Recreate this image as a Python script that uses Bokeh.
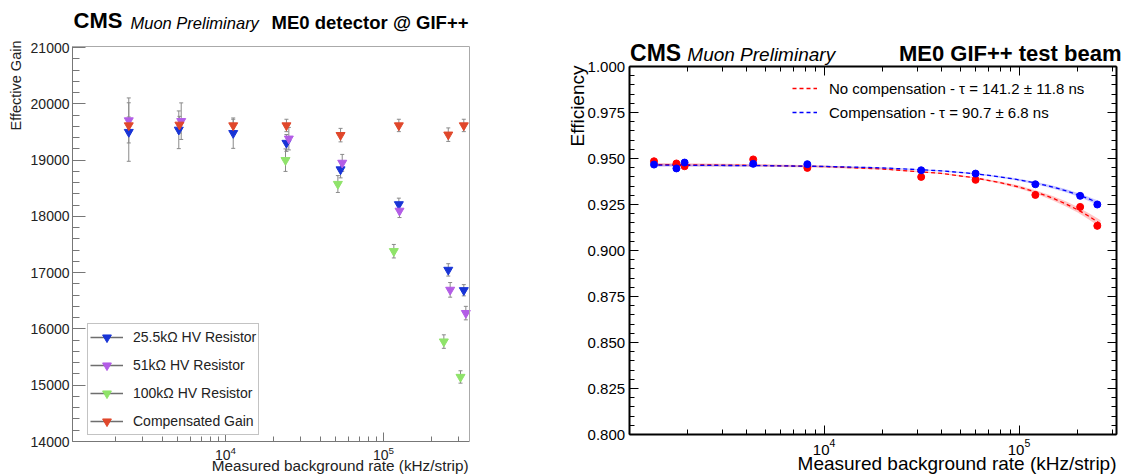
import math
from bokeh.plotting import figure
from bokeh.models import (FixedTicker, Label, Legend, LegendItem, Whisker, TeeHead,
                          ColumnDataSource, Range1d, LinearAxis, LogAxis, CustomJSTickFormatter,
                          PrintfTickFormatter)
from bokeh.layouts import row
from bokeh.embed import file_html
from bokeh.resources import INLINE

FONT = "Liberation Sans"

# ---------------- left panel data (Effective gain vs rate) ----------------
rate_25k = [2443, 5063, 11190, 24300, 53460, 125000, 256800, 322000]
gain_25k = [19500, 19540, 19480, 19306, 18835, 18215, 17050, 16688]
err_25k = [520, 335, 270, 150, 150, 110, 110, 100]

rate_51k = [2443, 5244, 25160, 54770, 126200, 264000, 331700]
gain_51k = [19706, 19693, 19382, 18952, 18100, 16695, 16282]
err_51k = [400, 325, 200, 150, 120, 130, 120]

rate_100k = [23970, 51400, 116200, 240800, 306900]
gain_100k = [19000, 18576, 17382, 15776, 15147]
err_100k = [200, 150, 120, 120, 110]

rate_cg = [2443, 5110, 11190, 24300, 53460, 125000, 256800, 322000]
gain_cg = [19617, 19629, 19617, 19617, 19445, 19617, 19453, 19617]
err_cg = [150, 150, 110, 110, 120, 110, 120, 110]

left_labels = ["25.5k\u03a9 HV Resistor", "51k\u03a9 HV Resistor",
               "100k\u03a9 HV Resistor", "Compensated Gain"]
left_colors = ["#1834d6", "#b35de6", "#8fe36a", "#e0472b"]

gain_lim = (14000, 21020)
rate_lim_left = (1076, 349900)
gain_major = [14000, 15000, 16000, 17000, 18000, 19000, 20000, 21000]
gain_minor = [14000 + 200 * i for i in range(36)]

# ---------------- right panel data (Efficiency vs rate) ----------------
rate_eff = [1342, 1749, 1926, 4331, 8208, 31490, 59870, 121300, 205900, 252100]
eff_nocomp = [0.9485, 0.9473, 0.9458, 0.9495, 0.9449, 0.9400, 0.9384, 0.9302, 0.9237, 0.9134]
err_nocomp = [0.0006, 0.0006, 0.0006, 0.0006, 0.0006, 0.0006, 0.0007, 0.0009, 0.0016, 0.0018]
eff_comp = [0.9467, 0.9446, 0.9478, 0.9471, 0.9469, 0.9436, 0.9418, 0.9360, 0.9297, 0.9250]
err_comp = [0.0006, 0.0006, 0.0006, 0.0006, 0.0006, 0.0006, 0.0007, 0.0008, 0.0012, 0.0015]

fit_rate = [1300, 2000, 5000, 10000, 20000, 40000, 60000, 80000, 100000, 125000,
            150000, 175000, 200000, 225000, 250000, 262000]
fit_nocomp = [0.9467, 0.9466, 0.9462, 0.9456, 0.9443, 0.9419, 0.9394, 0.9369, 0.9345, 0.9314,
              0.9283, 0.9252, 0.9221, 0.9190, 0.9159, 0.9144]
band_nocomp = [0.0009, 0.0008, 0.0007, 0.0006, 0.0004, 0.0003, 0.0004, 0.0006, 0.0008, 0.0010,
               0.0012, 0.0014, 0.0015, 0.0017, 0.0019, 0.0020]
fit_comp = [0.9464, 0.9463, 0.9461, 0.9457, 0.9449, 0.9433, 0.9417, 0.9400, 0.9384, 0.9364,
            0.9344, 0.9324, 0.9303, 0.9283, 0.9263, 0.9253]
band_comp = [0.0007, 0.0006, 0.0005, 0.0004, 0.0003, 0.0003, 0.0004, 0.0005, 0.0006, 0.0007,
             0.0008, 0.0009, 0.0010, 0.0011, 0.0012, 0.0013]

right_labels = ["No compensation - \u03c4 = 141.2 \u00b1 11.8 ns",
                "Compensation - \u03c4 = 90.7 \u00b1 6.8 ns"]
eff_lim = (0.8, 1.0)
rate_lim_right = (1000, 316228)
eff_major = [0.800, 0.825, 0.850, 0.875, 0.900, 0.925, 0.950, 0.975, 1.000]
eff_minor = [round(0.800 + 0.005 * i, 3) for i in range(41)]

rate_major = [1e4, 1e5]
rate_minor = [2e3, 3e3, 4e3, 5e3, 6e3, 7e3, 8e3, 9e3,
              2e4, 3e4, 4e4, 5e4, 6e4, 7e4, 8e4, 9e4, 2e5, 3e5]

# ---------------- layout geometry (page pixels) ----------------
H = 474
W1, W2 = 545, 578
X2 = W1  # left edge of right canvas
BOX1 = dict(x0=72, x1=469, y0=46, y1=441)       # left plotting box (page px)
BOX2 = dict(x0=628.6, x1=1116, y0=66, y1=434)    # right plotting box (page px)


def extend(d0, d1, p0, p1, total, log=False):
    """Extend a data interval mapped to pixels p0..p1 so it covers 0..total."""
    if log:
        d0, d1 = math.log10(d0), math.log10(d1)
    s = (d1 - d0) / (p1 - p0)
    a, b = d0 - p0 * s, d1 + (total - p1) * s
    if log:
        return 10 ** a, 10 ** b
    return a, b


def make_fig(width, box, xoff, xlim, ylim):
    xr = extend(xlim[0], xlim[1], box["x0"] - xoff, box["x1"] - xoff, width, log=True)
    yr = extend(ylim[0], ylim[1], H - box["y1"], H - box["y0"], H)
    p = figure(width=width, height=H, x_axis_type="log", title=None,
               x_range=Range1d(*xr), y_range=Range1d(*yr),
               min_border=0, min_border_left=0, min_border_right=0,
               min_border_top=0, min_border_bottom=0,
               toolbar_location=None, output_backend="svg")
    p.grid.visible = False
    p.outline_line_color = None
    p.background_fill_color = "white"
    p.border_fill_color = "white"
    return p


def lab(fig, xoff, x, base_y, text, size, style="normal", align="left", angle=0.0,
        color="black", rotated=False):
    """Place text; base_y is the baseline (or the centre line for rotated text) in page px."""
    px = float(size.replace("px", ""))
    y = base_y if rotated else base_y - 0.35 * px
    fig.add_layout(Label(x=x - xoff, y=H - y, x_units="screen", y_units="screen", text=text,
                         text_font=FONT, text_font_style=style, text_font_size=size,
                         text_baseline="middle", text_align=align, angle=angle,
                         text_color=color))


blank = CustomJSTickFormatter(code="return ''")

# ======================= LEFT FIGURE =======================
p1 = make_fig(W1, BOX1, 0, rate_lim_left, gain_lim)
bx1 = p1.below[0]
ly1 = p1.left[0]
bx1.ticker = FixedTicker(ticks=rate_major, minor_ticks=rate_minor)
ly1.ticker = FixedTicker(ticks=gain_major, minor_ticks=gain_minor)
bx1.fixed_location = gain_lim[0]
bx1.bounds = rate_lim_left
ly1.fixed_location = rate_lim_left[0]
ly1.bounds = gain_lim
top1 = LogAxis(ticker=FixedTicker(ticks=[]), formatter=blank, fixed_location=gain_lim[1],
               bounds=rate_lim_left)
right1 = LinearAxis(ticker=FixedTicker(ticks=[]), formatter=blank,
                    fixed_location=rate_lim_left[1], bounds=gain_lim)
p1.add_layout(top1, "above")
p1.add_layout(right1, "right")
for ax in (bx1, ly1, top1, right1):
    ax.axis_line_color = "#777777"
    ax.axis_line_width = 1
    ax.major_tick_line_color = "#777777"
    ax.minor_tick_line_color = "#777777"
    ax.major_tick_out = 0
    ax.minor_tick_out = 0
    ax.major_label_text_font = FONT
    ax.major_label_text_color = "#222222"
    ax.major_label_text_font_size = "14px"
for ax in (top1, right1):
    ax.axis_line_color = "#aaaaaa"
    ax.major_tick_in = 0
    ax.minor_tick_in = 0
ly1.major_tick_in = 13
ly1.minor_tick_in = 7
ly1.major_label_standoff = 3
bx1.major_tick_in = 9
bx1.minor_tick_in = 5
bx1.major_label_standoff = 4

series = [(rate_25k, gain_25k, err_25k), (rate_51k, gain_51k, err_51k),
          (rate_100k, gain_100k, err_100k), (rate_cg, gain_cg, err_cg)]
for (xs, ys, es), col in zip(series, left_colors):
    src = ColumnDataSource(dict(x=xs, y=ys,
                                lo=[a - b for a, b in zip(ys, es)],
                                hi=[a + b for a, b in zip(ys, es)]))
    p1.add_layout(Whisker(source=src, base="x", lower="lo", upper="hi", dimension="height",
                          line_color="#8a8a8a", line_width=1,
                          upper_head=TeeHead(size=4, line_color="#8a8a8a", line_width=1),
                          lower_head=TeeHead(size=4, line_color="#8a8a8a", line_width=1)))
marker_renderers = []
legend_lines = []
for (xs, ys, es), col in zip(series, left_colors):
    # zero-length line at the first point: only used for the legend's line sample
    ln = p1.line(x=[xs[0], xs[0]], y=[ys[0], ys[0]], line_color="#6e6e6e", line_width=1.3)
    legend_lines.append(ln)
for (xs, ys, es), col in zip(series, left_colors):
    r = p1.scatter(x=xs, y=ys, marker="inverted_triangle", size=9,
                   fill_color=col, line_color=col)
    marker_renderers.append(r)

leg1 = Legend(items=[LegendItem(label=t, renderers=[ln, r])
                     for t, ln, r in zip(left_labels, legend_lines, marker_renderers)],
              location=(87, H - 435), border_line_color="#888888", border_line_width=1,
              background_fill_color="white", background_fill_alpha=1.0,
              label_text_font=FONT, label_text_font_size="14px", label_text_color="#222222",
              glyph_width=33, glyph_height=22, label_height=22, label_standoff=10,
              spacing=6, padding=2, margin=0)
p1.add_layout(leg1)

lab(p1, 0, 73, 28, "CMS", "22px", style="bold")
lab(p1, 0, 130, 28, "Muon Preliminary", "16.5px", style="italic")
lab(p1, 0, 468, 28, "ME0 detector @ GIF++", "18.5px", style="bold", align="right")
lab(p1, 0, 15, 40, "Effective Gain", "14.5px", align="right", angle=math.pi / 2,
    color="#222222", rotated=True)
lab(p1, 0, 468, 470, "Measured background rate (kHz/strip)", "15.3px", align="right",
    color="#222222")

# ======================= RIGHT FIGURE =======================
p2 = make_fig(W2, BOX2, X2, rate_lim_right, eff_lim)
bx2 = p2.below[0]
ly2 = p2.left[0]
xtick = FixedTicker(ticks=rate_major, minor_ticks=rate_minor)
ytick = FixedTicker(ticks=eff_major, minor_ticks=eff_minor)
bx2.ticker = xtick
ly2.ticker = ytick
ly2.formatter = PrintfTickFormatter(format="%.3f")
bx2.fixed_location = eff_lim[0]
bx2.bounds = rate_lim_right
ly2.fixed_location = rate_lim_right[0]
ly2.bounds = eff_lim
top2 = LogAxis(ticker=xtick, formatter=blank, fixed_location=eff_lim[1], bounds=rate_lim_right)
right2 = LinearAxis(ticker=ytick, formatter=blank, fixed_location=rate_lim_right[1],
                    bounds=eff_lim)
p2.add_layout(top2, "above")
p2.add_layout(right2, "right")
for ax in (bx2, ly2, top2, right2):
    ax.axis_line_color = "black"
    ax.axis_line_width = 2
    ax.major_tick_line_color = "black"
    ax.minor_tick_line_color = "black"
    ax.major_tick_out = 0
    ax.minor_tick_out = 0
    ax.major_tick_in = 9
    ax.minor_tick_in = 5
    ax.major_label_text_font = FONT
    ax.major_label_text_color = "black"
    ax.major_label_text_font_size = "15px"
    ax.major_label_standoff = 4

red, blue = "#ff0000", "#0000ff"
p2.varea(x=fit_rate, y1=[a - b for a, b in zip(fit_nocomp, band_nocomp)],
         y2=[a + b for a, b in zip(fit_nocomp, band_nocomp)], fill_color=red, fill_alpha=0.22)
p2.varea(x=fit_rate, y1=[a - b for a, b in zip(fit_comp, band_comp)],
         y2=[a + b for a, b in zip(fit_comp, band_comp)], fill_color=blue, fill_alpha=0.22)
l_red = p2.line(x=fit_rate, y=fit_nocomp, line_color=red, line_width=1.3, line_dash="4 3")
l_blue = p2.line(x=fit_rate, y=fit_comp, line_color=blue, line_width=1.3, line_dash="4 3")
p2.segment(x0=rate_eff, x1=rate_eff, y0=[a - b for a, b in zip(eff_nocomp, err_nocomp)],
           y1=[a + b for a, b in zip(eff_nocomp, err_nocomp)], line_color=red, line_width=1.5)
p2.segment(x0=rate_eff, x1=rate_eff, y0=[a - b for a, b in zip(eff_comp, err_comp)],
           y1=[a + b for a, b in zip(eff_comp, err_comp)], line_color=blue, line_width=1.5)
p2.scatter(x=rate_eff, y=eff_nocomp, marker="circle", size=7, fill_color=red, line_color=red)
p2.scatter(x=rate_eff, y=eff_comp, marker="circle", size=7, fill_color=blue, line_color=blue)

leg2 = Legend(items=[LegendItem(label=right_labels[0], renderers=[l_red]),
                     LegendItem(label=right_labels[1], renderers=[l_blue])],
              location=(792 - X2, H - 122), border_line_color=None, background_fill_alpha=0,
              label_text_font=FONT, label_text_font_size="15px", label_text_color="black",
              glyph_width=25, glyph_height=20, label_height=20, label_standoff=12,
              spacing=4, padding=0, margin=0)
p2.add_layout(leg2)

lab(p2, X2, 629.6, 61, "CMS", "23px", style="bold")
lab(p2, X2, 686.8, 61, "Muon Preliminary", "19px", style="italic")
lab(p2, X2, 1121, 61, "ME0 GIF++ test beam", "22px", style="bold", align="right")
lab(p2, X2, 577, 65, "Efficiency", "19px", align="right", angle=math.pi / 2, rotated=True)
lab(p2, X2, 1116, 470, "Measured background rate (kHz/strip)", "19px", align="right")

layout = row(p1, p2)
open("out.html", "w").write(file_html(layout, INLINE))
